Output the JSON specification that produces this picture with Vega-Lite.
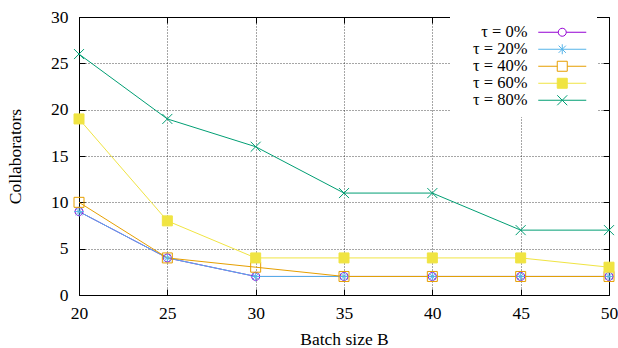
{
  "$schema": "https://vega.github.io/schema/vega-lite/v6.json",
  "width": 530,
  "height": 278,
  "autosize": {"type": "none"},
  "padding": {"left": 79, "top": 17, "right": 9, "bottom": 53},
  "background": "white",
  "config": {
    "font": "Liberation Serif",
    "view": {"stroke": "black", "strokeWidth": 1},
    "axis": {
      "labelFont": "Liberation Serif", "titleFont": "Liberation Serif",
      "labelFontSize": 17.5, "titleFontSize": 17.5, "titleFontWeight": "normal",
      "labelColor": "black", "titleColor": "black",
      "domain": false, "tickColor": "black", "tickSize": -6, "tickWidth": 1,
      "gridColor": "black", "gridDash": [1, 2], "gridOpacity": 0.7, "gridWidth": 1
    },
    "legend": {
      "labelFont": "Liberation Serif", "labelFontSize": 16.5, "labelColor": "black"
    }
  },
  "datasets": {
    "d": [
      {"B": 20, "c": 9, "tau": "τ = 0%"}, {"B": 25, "c": 4, "tau": "τ = 0%"}, {"B": 30, "c": 2, "tau": "τ = 0%"}, {"B": 35, "c": 2, "tau": "τ = 0%"}, {"B": 40, "c": 2, "tau": "τ = 0%"}, {"B": 45, "c": 2, "tau": "τ = 0%"}, {"B": 50, "c": 2, "tau": "τ = 0%"},
      {"B": 20, "c": 9, "tau": "τ = 20%"}, {"B": 25, "c": 4, "tau": "τ = 20%"}, {"B": 30, "c": 2, "tau": "τ = 20%"}, {"B": 35, "c": 2, "tau": "τ = 20%"}, {"B": 40, "c": 2, "tau": "τ = 20%"}, {"B": 45, "c": 2, "tau": "τ = 20%"}, {"B": 50, "c": 2, "tau": "τ = 20%"},
      {"B": 20, "c": 10, "tau": "τ = 40%"}, {"B": 25, "c": 4, "tau": "τ = 40%"}, {"B": 30, "c": 3, "tau": "τ = 40%"}, {"B": 35, "c": 2, "tau": "τ = 40%"}, {"B": 40, "c": 2, "tau": "τ = 40%"}, {"B": 45, "c": 2, "tau": "τ = 40%"}, {"B": 50, "c": 2, "tau": "τ = 40%"},
      {"B": 20, "c": 19, "tau": "τ = 60%"}, {"B": 25, "c": 8, "tau": "τ = 60%"}, {"B": 30, "c": 4, "tau": "τ = 60%"}, {"B": 35, "c": 4, "tau": "τ = 60%"}, {"B": 40, "c": 4, "tau": "τ = 60%"}, {"B": 45, "c": 4, "tau": "τ = 60%"}, {"B": 50, "c": 3, "tau": "τ = 60%"},
      {"B": 20, "c": 26, "tau": "τ = 80%"}, {"B": 25, "c": 19, "tau": "τ = 80%"}, {"B": 30, "c": 16, "tau": "τ = 80%"}, {"B": 35, "c": 11, "tau": "τ = 80%"}, {"B": 40, "c": 11, "tau": "τ = 80%"}, {"B": 45, "c": 7, "tau": "τ = 80%"}, {"B": 50, "c": 7, "tau": "τ = 80%"}
    ]
  },
  "data": {"name": "d"},
  "layer": [
    {
      "mark": {"type": "line", "strokeWidth": 1},
      "encoding": {
        "x": {"field": "B", "type": "quantitative", "scale": {"domain": [20, 50], "nice": false},
              "axis": {"orient": "bottom", "title": "Batch size B", "values": [20, 25, 30, 35, 40, 45, 50], "grid": true, "labelPadding": 15, "titlePadding": 9, "labelFlush": false}},
        "y": {"field": "c", "type": "quantitative", "scale": {"domain": [0, 30], "nice": false},
              "axis": {"orient": "left", "title": "Collaborators", "values": [0, 5, 10, 15, 20, 25, 30], "grid": true, "labelPadding": 17, "titlePadding": 26}},
        "stroke": {"field": "tau", "type": "nominal",
                   "scale": {"domain": ["τ = 0%", "τ = 20%", "τ = 40%", "τ = 60%", "τ = 80%"], "range": ["#9400d3", "#56b4e9", "#e69f00", "#f0e442", "#009e73"]},
                   "legend": null}
      }
    },
    {
      "mark": {"type": "point", "filled": false, "strokeWidth": 1, "size": 64, "opacity": 1},
      "encoding": {
        "x": {"field": "B", "type": "quantitative", "axis": null},
        "y": {"field": "c", "type": "quantitative", "axis": null},
        "stroke": {"field": "tau", "type": "nominal",
                   "scale": {"domain": ["τ = 0%", "τ = 20%", "τ = 40%", "τ = 60%", "τ = 80%"], "range": ["#9400d3", "#56b4e9", "#e69f00", "#f0e442", "#009e73"]},
                   "legend": null},
        "fill": {"field": "tau", "type": "nominal",
                 "scale": {"domain": ["τ = 0%", "τ = 20%", "τ = 40%", "τ = 60%", "τ = 80%"], "range": ["transparent", "transparent", "transparent", "#f0e442", "transparent"]},
                 "legend": null},
        "shape": {"field": "tau", "type": "nominal",
                  "scale": {"domain": ["τ = 0%", "τ = 20%", "τ = 40%", "τ = 60%", "τ = 80%"],
                            "range": ["M-1,0A1,1,0,1,1,1,0A1,1,0,1,1,-1,0Z",
                                      "M-1.25,0L1.25,0M0,-1.25L0,1.25M-0.9,-0.9L0.9,0.9M-0.9,0.9L0.9,-0.9",
                                      "M-1.25,-1.25L1.25,-1.25L1.25,1.25L-1.25,1.25Z",
                                      "M-1.25,-1.25L1.25,-1.25L1.25,1.25L-1.25,1.25Z",
                                      "M-1.25,-1.25L1.25,1.25M-1.25,1.25L1.25,-1.25"]},
                  "legend": null}
      }
    },
    {
      "mark": {"type": "point", "filled": false, "opacity": 0, "strokeWidth": 1},
      "encoding": {
        "x": {"field": "B", "type": "quantitative", "axis": null},
        "y": {"field": "c", "type": "quantitative", "axis": null},
        "stroke": {"field": "tau", "type": "nominal",
                   "scale": {"domain": ["τ = 0%", "τ = 20%", "τ = 40%", "τ = 60%", "τ = 80%"], "range": ["#9400d3", "#56b4e9", "#e69f00", "#f0e442", "#009e73"]},
                   "legend": {"title": null}},
        "fill": {"field": "tau", "type": "nominal",
                 "scale": {"domain": ["τ = 0%", "τ = 20%", "τ = 40%", "τ = 60%", "τ = 80%"], "range": ["transparent", "transparent", "transparent", "#f0e442", "transparent"]},
                 "legend": {"title": null}},
        "shape": {"field": "tau", "type": "nominal",
                  "scale": {"domain": ["τ = 0%", "τ = 20%", "τ = 40%", "τ = 60%", "τ = 80%"],
                            "range": ["M18,0L23,0A1,1,0,1,1,25,0A1,1,0,1,1,23,0M25,0L30,0",
                                      "M18,0L30,0M24,-1.25L24,1.25M23.1,-0.9L24.9,0.9M23.1,0.9L24.9,-0.9",
                                      "M18,0L22.75,0M25.25,0L30,0M22.75,-1.25L25.25,-1.25L25.25,1.25L22.75,1.25Z",
                                      "M18,0L30,0M22.75,-1.25L25.25,-1.25L25.25,1.25L22.75,1.25Z",
                                      "M18,0L30,0M22.75,-1.25L25.25,1.25M22.75,1.25L25.25,-1.25"]},
                  "legend": {"title": null, "orient": "none", "legendX": 371, "legendY": -1, "padding": 8,
                             "labelFont": "Liberation Serif", "labelFontSize": 16.5, "labelColor": "black",
                             "labelAlign": "right", "labelOffset": 53, "symbolSize": 64, "symbolStrokeWidth": 1,
                             "symbolOpacity": 1, "rowPadding": 0, "fillColor": "white",
                             "encode": {"labels": {"update": {"font": {"value": "Liberation Serif"}}}}}}
      }
    },
    {
      "mark": {"type": "point", "opacity": 0},
      "encoding": {
        "x": {"field": "B", "type": "quantitative",
              "axis": {"orient": "top", "title": null, "labels": false, "grid": false, "values": [20, 25, 30, 35, 40, 45, 50]}},
        "y": {"field": "c", "type": "quantitative",
              "axis": {"orient": "right", "title": null, "labels": false, "grid": false, "values": [0, 5, 10, 15, 20, 25, 30]}}
      }
    }
  ],
  "resolve": {"scale": {"shape": "independent", "stroke": "independent", "fill": "independent"}, "axis": {"x": "independent", "y": "independent"}}
}
